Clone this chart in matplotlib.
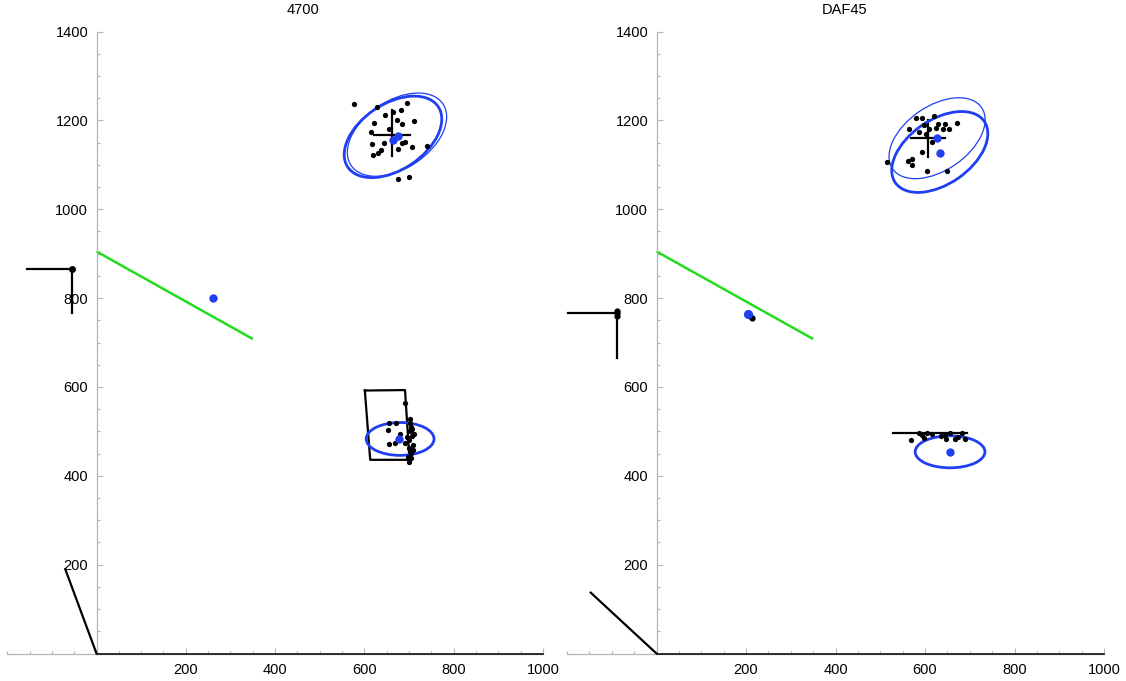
import matplotlib
matplotlib.use("Agg")
import matplotlib.pyplot as plt
from matplotlib.patches import Ellipse
from matplotlib.ticker import MultipleLocator, FixedLocator

plt.rcParams['font.family'] = ['Liberation Sans', 'DejaVu Sans']

# ---------------- panel titles ----------------
titles = ["4700", "DAF45"]

# ---------------- shared reference line ----------------
green_x = [0, 350]
green_y = [905, 708]

# ---------------- panel 4700 ----------------
a_upper_x = [577, 628, 696, 646, 665, 682, 621, 672, 710, 685, 614, 616, 644, 684,
             691, 706, 741, 675, 637, 631, 620, 676, 700, 655, 667]
a_upper_y = [1237, 1231, 1240, 1212, 1218, 1224, 1195, 1201, 1198, 1191, 1173, 1146,
             1150, 1150, 1151, 1141, 1143, 1136, 1133, 1127, 1122, 1069, 1073, 1180, 1157]
a_lower_x = [691, 702, 655, 671, 653, 680, 656, 668, 704, 703, 707, 700, 708, 700,
             704, 700, 697, 706, 710, 695, 690, 702, 709, 705]
a_lower_y = [563, 529, 520, 520, 503, 494, 471, 473, 511, 500, 490, 480, 470, 462,
             451, 432, 442, 505, 495, 487, 474, 520, 458, 440]
a_means_x = [663, 675, 678, 260]
a_means_y = [1155, 1165, 483, 800]
a_cross_h = ([622, 702], [1167, 1167])
a_cross_v = ([662, 662], [1224, 1120])
a_box_x = [601, 691, 701, 613, 601]
a_box_y = [592, 593, 436, 436, 592]
a_corner_h = ([-156, -54], [866, 866])
a_corner_v = ([-54, -54], [866, 766])
a_corner_pts = ([-54], [866])
a_slant = ([-70, 0], [190, 0])
a_base = ([0, 1000], [0, 0])
# ellipses: (cx, cy, semi-major, semi-minor, angle, linewidth)
a_ellipses = [(664, 1163, 122, 74, 34, 2.0),
              (673, 1168, 124, 76, 34, 0.9),
              (680, 483, 76, 37, 0, 2.0)]

# ---------------- panel DAF45 ----------------
b_upper_x = [580, 594, 619, 564, 587, 610, 625, 641, 645, 654, 671, 602, 615, 593,
             570, 563, 570, 516, 605, 650, 598, 630]
b_upper_y = [1205, 1205, 1211, 1181, 1175, 1180, 1184, 1181, 1191, 1181, 1195, 1169,
             1151, 1130, 1113, 1109, 1100, 1106, 1086, 1086, 1190, 1192]
b_lower_x = [568, 587, 593, 604, 615, 645, 647, 667, 674, 682, 689, 656, 598, 636]
b_lower_y = [481, 497, 492, 497, 494, 492, 482, 482, 488, 497, 484, 496, 486, 489]
b_means_x = [627, 633, 656, 205]
b_means_y = [1161, 1126, 453, 764]
b_cross_h = ([568, 645], [1161, 1161])
b_cross_v = ([607, 607], [1201, 1118])
b_bar = ([528, 693], [497, 497])
b_mid_pts = ([213, 210], [755, 760])
b_corner_h = ([-198, -89], [766, 766])
b_corner_v = ([-89, -89], [766, 665])
b_corner_pts = ([-89, -89, -89], [770, 766, 760])
b_slant = ([-147, 0], [137, 0])
b_base = ([0, 1000], [0, 0])
b_ellipses = [(627, 1160, 121, 72, 35, 0.9),
              (633, 1129, 121, 72, 35, 2.0),
              (656, 454, 78, 36, 0, 2.0)]

BLUE = "#1f3ff0"
GREEN = "#22dd1f"
AXIS_GRAY = "#b4b4b4"

x_major = [200, 400, 600, 800, 1000]
y_major = [200, 400, 600, 800, 1000, 1200, 1400]

fig = plt.figure(figsize=(11.26, 6.81), dpi=100)
ax_a = fig.add_axes([7.2 / 1126, 27.5 / 681, 535.8 / 1126, 621.9 / 681])
ax_b = fig.add_axes([567 / 1126, 27.5 / 681, 537 / 1126, 621.9 / 681])


def style_axes(ax):
    ax.set_xlim(-200, 1000)
    ax.set_ylim(0, 1400)
    for side in ("top", "right"):
        ax.spines[side].set_visible(False)
    ax.spines["left"].set_position(("data", 0))
    ax.spines["bottom"].set_position(("data", 0))
    for side in ("left", "bottom"):
        ax.spines[side].set_color(AXIS_GRAY)
        ax.spines[side].set_linewidth(0.9)
    ax.xaxis.set_major_locator(FixedLocator(x_major))
    ax.yaxis.set_major_locator(FixedLocator(y_major))
    ax.xaxis.set_minor_locator(MultipleLocator(50))
    ax.yaxis.set_minor_locator(MultipleLocator(50))
    ax.tick_params(which="both", direction="in", color=AXIS_GRAY, width=0.8,
                   labelsize=10.5, labelcolor="black")
    ax.tick_params(which="major", length=4)
    ax.tick_params(which="minor", length=2)
    ax.tick_params(axis="y", pad=6)
    ax.tick_params(axis="x", pad=7)
    ax.patch.set_visible(False)


def draw_panel(ax, upper, lower, means, crosses, ellipses, extras, base):
    style_axes(ax)
    ax.plot(green_x, green_y, color=GREEN, lw=1.8, solid_capstyle="butt", zorder=2)
    ax.plot(base[0], base[1], color="black", lw=1.1, zorder=3, clip_on=False)
    for cx, cy, a, b, ang, lw in ellipses:
        ax.add_patch(Ellipse((cx, cy), 2 * a, 2 * b, angle=ang, fill=False,
                             edgecolor=BLUE, lw=lw, zorder=4))
    for xs, ys in crosses:
        ax.plot(xs, ys, color="black", lw=1.6, zorder=3)
    for xs, ys in extras:
        ax.plot(xs, ys, color="black", lw=1.6, zorder=3, clip_on=False)
    ax.plot(upper[0], upper[1], "o", color="black", ms=3.8, mew=0, zorder=5)
    ax.plot(lower[0], lower[1], "o", color="black", ms=3.8, mew=0, zorder=5)
    ax.plot(means[0], means[1], "o", color=BLUE, ms=6, mew=0, zorder=6)


draw_panel(ax_a, (a_upper_x, a_upper_y), (a_lower_x, a_lower_y), (a_means_x, a_means_y),
           [a_cross_h, a_cross_v],
           a_ellipses,
           [(a_box_x, a_box_y), a_corner_h, a_corner_v, a_slant],
           a_base)
ax_a.plot(*a_corner_pts, "o", color="black", ms=5, mew=0, zorder=5)

draw_panel(ax_b, (b_upper_x, b_upper_y), (b_lower_x, b_lower_y), (b_means_x, b_means_y),
           [b_cross_h, b_cross_v],
           b_ellipses,
           [b_bar, b_corner_h, b_corner_v, b_slant],
           b_base)
ax_b.plot(*b_corner_pts, "o", color="black", ms=4.5, mew=0, zorder=5)
ax_b.plot(*b_mid_pts, "o", color="black", ms=4.5, mew=0, zorder=5)
ax_b.plot([b_means_x[3]], [b_means_y[3]], "o", color=BLUE, ms=6.5, mew=0, zorder=7)

fig.text(303 / 1126, 1 - 10 / 681, titles[0], ha="center", va="center", fontsize=10.5)
fig.text(845 / 1126, 1 - 10 / 681, titles[1], ha="center", va="center", fontsize=10.5)

fig.savefig("out.png", dpi=100)
